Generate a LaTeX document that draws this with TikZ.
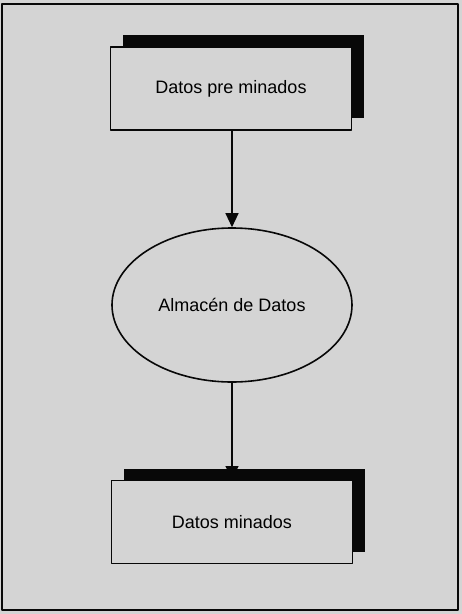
\documentclass[tikz,border=0pt]{standalone}
\usepackage{fontspec}
\setmainfont{Liberation Sans}
\usetikzlibrary{arrows.meta,shapes.geometric,shadows}
\definecolor{paper}{HTML}{D4D4D4}
\definecolor{ink}{HTML}{080808}

\begin{document}
\begin{tikzpicture}[x=1pt,y=1pt,line cap=round,line join=round,
    font=\fontsize{18}{21}\selectfont,
    store/.style={draw=ink,line width=1.6pt,fill=paper,inner sep=0pt,
      minimum width=241pt,minimum height=83pt,
      drop shadow={shadow xshift=12pt,shadow yshift=12pt,fill=ink,opacity=1}},
    proc/.style={ellipse,draw=ink,line width=1.6pt,fill=paper,inner sep=0pt,
      minimum width=240pt,minimum height=154pt},
    flow/.style={draw=ink,line width=1.3pt,-{Triangle[length=14pt,width=13pt]}}]
  \path[use as bounding box] (0,0) rectangle (462,-614);
  \fill[paper] (0,0) rectangle (462,-614);
  \draw[ink,line width=1.6pt] (2,-4) rectangle (458,-610);

  % nodes
  \node[proc] (almacen) at (232,-305) {Almacén de Datos};
  \coordinate (entrada) at (232,-480);
  \draw[flow] (almacen.south) -- (entrada);
  \node[store] (pre) at (231,-88.5) {Datos pre minados};
  \node[store] (minados) at (232,-522) {Datos minados};

  % connectors
  \draw[flow] (pre.south -| almacen.north) -- (almacen.north);
\end{tikzpicture}
\end{document}
